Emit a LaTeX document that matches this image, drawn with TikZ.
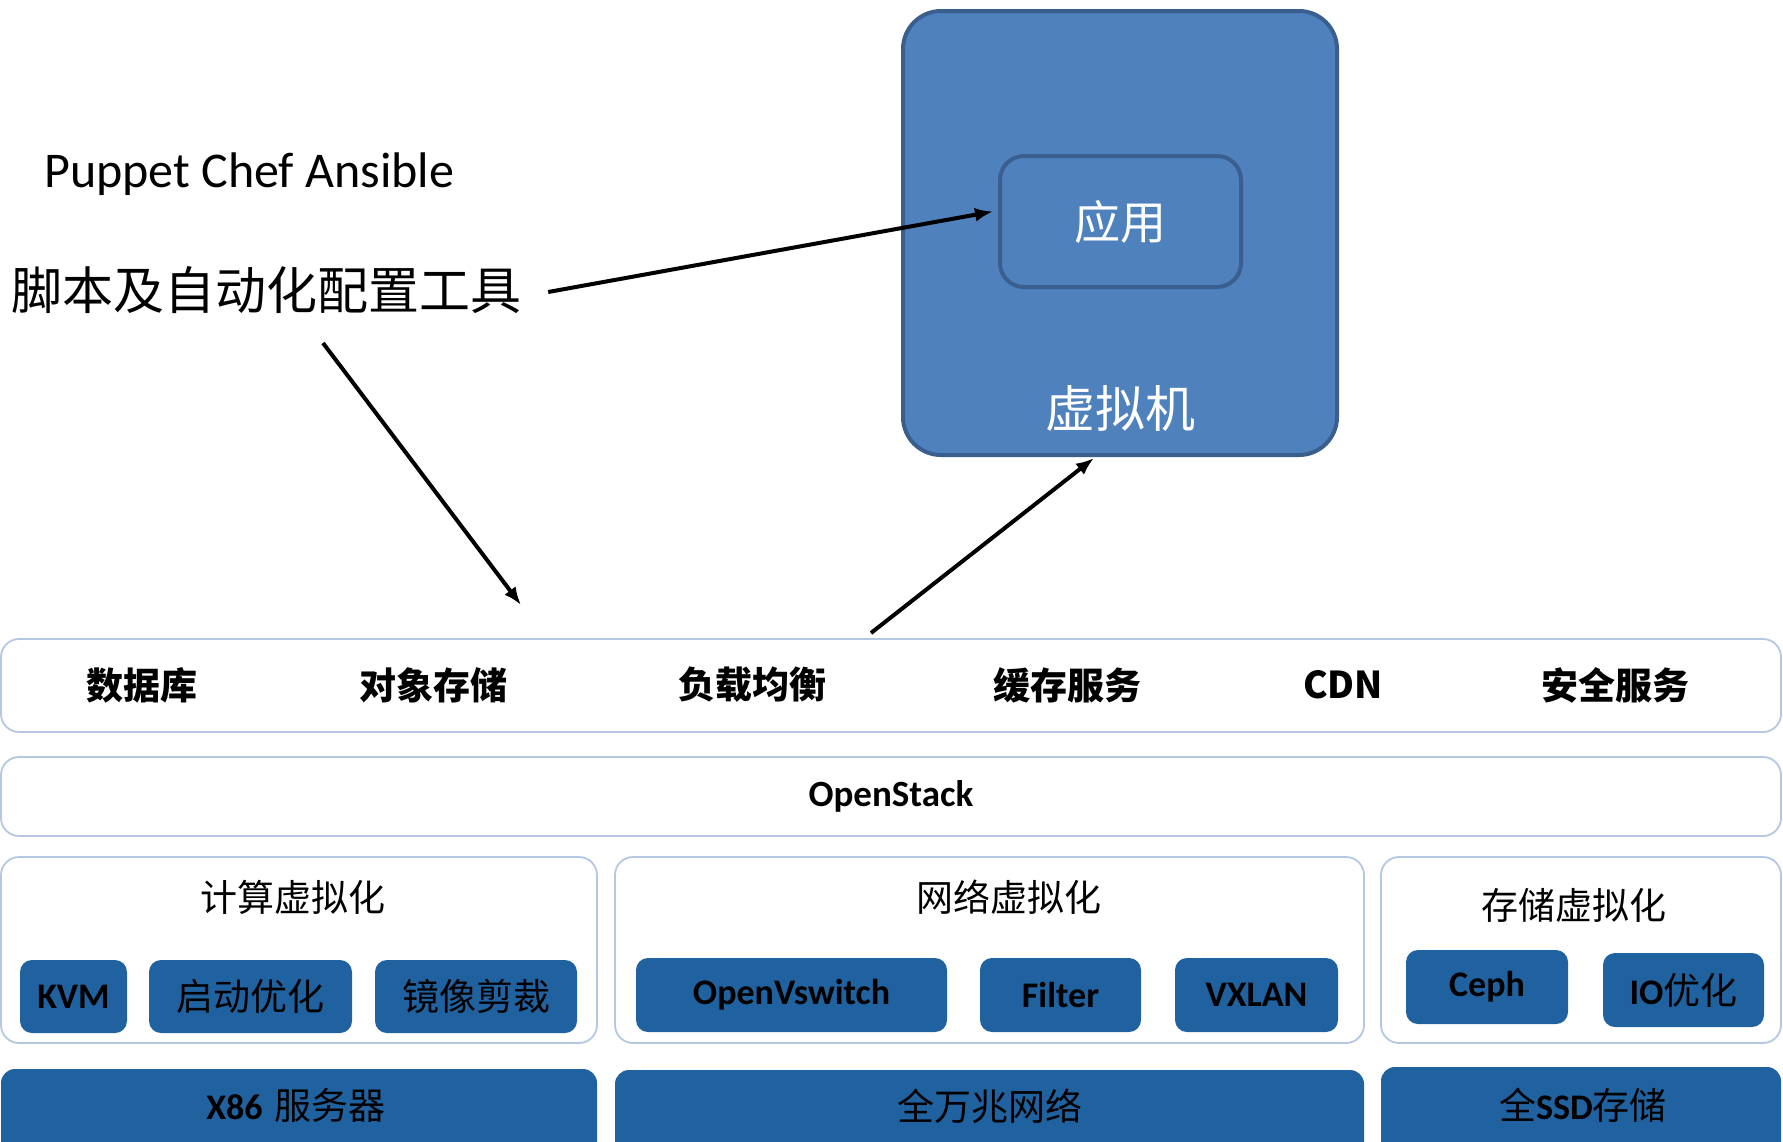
\documentclass[tikz,border=0pt]{standalone}
\usepackage{fontspec}
\setmainfont{Carlito}
\newfontfamily\cjk{Noto Sans CJK SC}
\usetikzlibrary{arrows.meta}
\definecolor{vmfill}{HTML}{4F81BD}
\definecolor{vmline}{HTML}{3A5F8E}
\definecolor{barline}{HTML}{B4C8E4}
\definecolor{tile}{HTML}{2061A0}
\begin{document}
\begin{tikzpicture}[x=1pt,y=-1pt,
  vmbox/.style={draw=vmline, fill=vmfill, line width=4pt, rounded corners=38pt, inner sep=0pt},
  appbox/.style={draw=vmline, fill=vmfill, line width=4pt, rounded corners=24pt, inner sep=0pt, text=white, font=\cjk\fontsize{46}{50}\selectfont},
  bar/.style={draw=barline, line width=1.8pt, fill=white, rounded corners=18pt, inner sep=0pt},
  tilebox/.style={fill=tile, rounded corners=12pt, inner sep=0pt, text=black},
  basebox/.style={fill=tile, rounded corners=14pt, inner sep=0pt},
  conn/.style={line width=4pt, -{Latex[length=18pt,width=14pt]}},
  lat/.style={font=\bfseries\fontsize{36}{40}\selectfont},
  cjkr/.style={font=\cjk\fontsize{37}{40}\selectfont},
  cjkb/.style={font=\cjk\bfseries\fontsize{37}{40}\selectfont},
  lbl/.style={inner sep=0pt},
]
\useasboundingbox (0,0) rectangle (1783,1141);
% virtual machine
\node[vmbox, minimum width=434pt, minimum height=444pt] (vm) at (1120,233) {};
\node[appbox, minimum width=241pt, minimum height=131pt] (app) at (1120.5,221.5) {应用};
\node[lbl, text=white, font=\cjk\fontsize{50}{54}\selectfont] (vmlbl) at (1120,408) {虚拟机};
% left texts
\node[lbl, anchor=base west, font=\fontsize{50}{56}\selectfont] (tools) at (44,187) {Puppet Chef Ansible};
\node[lbl, font=\cjk\fontsize{51}{56}\selectfont] (script) at (267,290) {脚本及自动化配置工具};
% service bar
\node[bar, minimum width=1780pt, minimum height=93pt] (svc) at (891,685.5) {};
\node[lbl, cjkb] (s1) at (142,685) {数据库};
\node[lbl, cjkb] (s2) at (433,685) {对象存储};
\node[lbl, cjkb] (s3) at (752,685) {负载均衡};
\node[lbl, cjkb] (s4) at (1067,685) {缓存服务};
\node[lbl, cjkb] (s5) at (1343,685) {CDN};
\node[lbl, cjkb] (s6) at (1615,685) {安全服务};
% openstack
\node[bar, minimum width=1780pt, minimum height=79pt, font=\bfseries\fontsize{37}{40}\selectfont] (os) at (891,796.5) {OpenStack};
% virtualization boxes
\node[bar, minimum width=596pt, minimum height=186pt] (comp) at (299,950) {};
\node[bar, minimum width=749pt, minimum height=186pt] (net) at (989.5,950) {};
\node[bar, minimum width=400pt, minimum height=186pt] (stor) at (1581,950) {};
\node[lbl, cjkr] (compt) at (293,897) {计算虚拟化};
\node[lbl, cjkr] (nett) at (1009,897) {网络虚拟化};
\node[lbl, cjkr] (stort) at (1574,905) {存储虚拟化};
% tiles
\node[tilebox, minimum width=107pt, minimum height=73pt, lat] (kvm) at (73.5,996.5) {KVM};
\node[tilebox, minimum width=203pt, minimum height=73pt, cjkr] (boot) at (250.5,996.5) {启动优化};
\node[tilebox, minimum width=202pt, minimum height=73pt, cjkr] (img) at (476,996.5) {镜像剪裁};
\node[tilebox, minimum width=311pt, minimum height=74pt, lat] (ovs) at (791.5,995) {OpenVswitch};
\node[tilebox, minimum width=161pt, minimum height=74pt, lat] (filt) at (1060.5,995) {Filter};
\node[tilebox, minimum width=163pt, minimum height=74pt, lat] (vx) at (1256.5,995) {VXLAN};
\node[tilebox, minimum width=162pt, minimum height=74pt, lat] (ceph) at (1487,987) {Ceph};
\node[tilebox, minimum width=161pt, minimum height=74pt] (io) at (1683.5,990) {{\bfseries\fontsize{36}{40}\selectfont IO}{\cjk\fontsize{37}{40}\selectfont 优化}};
% base hardware
\node[basebox, minimum width=596pt, minimum height=101pt] (x86) at (299,1119.5) {};
\node[basebox, minimum width=749pt, minimum height=100pt] (tenG) at (989.5,1120) {};
\node[basebox, minimum width=400pt, minimum height=103pt] (ssd) at (1581,1118.5) {};
\node[lbl] (x86t) at (296,1105) {{\bfseries\fontsize{36}{40}\selectfont X86}\hspace{12pt}{\cjk\fontsize{37}{40}\selectfont 服务器}};
\node[lbl, cjkr] (tenGt) at (990,1106) {全万兆网络};
\node[lbl] (ssdt) at (1583,1105) {{\cjk\fontsize{37}{40}\selectfont 全}{\bfseries\fontsize{36}{40}\selectfont SSD}{\cjk\fontsize{37}{40}\selectfont 存储}};
% connectors
\coordinate (a2s) at (323,343);
\coordinate (a2e) at (521,605);
\coordinate (a3s) at (871,633);
\draw[conn] ([xshift=26pt,yshift=-2pt]script.east) -- ([xshift=-5pt,yshift=10pt]app.west);
\draw[conn] (a2s) -- (a2e);
\draw[conn] (a3s) -- ([xshift=-26pt,yshift=-1pt]vm.south);
\end{tikzpicture}
\end{document}
